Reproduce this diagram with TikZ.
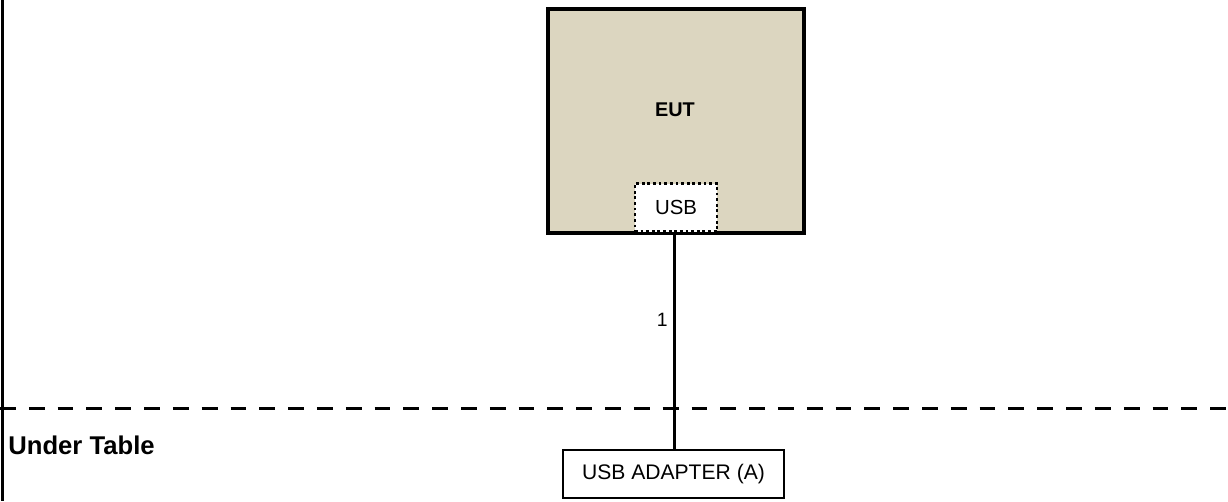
\documentclass[tikz,border=0pt]{standalone}
\usepackage{fontspec}
\setmainfont{Liberation Sans}
\usetikzlibrary{positioning}
\definecolor{eutfill}{RGB}{220,214,192}

\begin{document}
\begin{tikzpicture}[x=0.02cm,y=-0.02cm,
  eutbox/.style={draw,line width=2.3pt,fill=eutfill,minimum width=256*0.02cm,
                 minimum height=224*0.02cm,inner sep=0pt},
  port/.style={draw,line width=1.6pt,dash pattern=on 1.6pt off 1.6pt,fill=white,
               minimum width=82*0.02cm,minimum height=48*0.02cm,inner sep=0pt,
               font=\fontsize{11.6}{13}\selectfont},
  devbox/.style={draw,line width=1.1pt,minimum width=221*0.02cm,
                 minimum height=48*0.02cm,inner sep=0pt,
                 font=\fontsize{12}{14}\selectfont},
  cable/.style={line width=1.7pt},
  tableline/.style={line width=1.7pt,dash pattern=on 9pt off 7.4pt}
]
\useasboundingbox (0,0) rectangle (1228,501);

% frame edge on the left
\draw[line width=1.2pt] (2.5,0) -- (2.5,501);

% EUT
\node[eutbox] (eut) at (676,121) {};
\node[font=\bfseries\fontsize{11.3}{13}\selectfont] (eutlbl) at (675,110) {EUT};
\node[port] (usb) at (676,207.5) {USB};

% table edge
\coordinate (tl) at (0,408);
\coordinate (tr) at (1228,408);
\draw[tableline] (tl) -- (tr);
\node[font=\bfseries\fontsize{14.6}{16}\selectfont,anchor=west,inner sep=0pt] (under) at (8,445) {Under Table};

% adapter under the table
\node[devbox] (adapter) at (673.5,474) {USB ADAPTER (A)};

\draw[cable] (usb.south -| 674.5,0) -- node[pos=0.4,left,font=\fontsize{11}{13}\selectfont,inner sep=3pt] (c1) {1} (adapter.north -| 674.5,0);

\end{tikzpicture}
\end{document}
